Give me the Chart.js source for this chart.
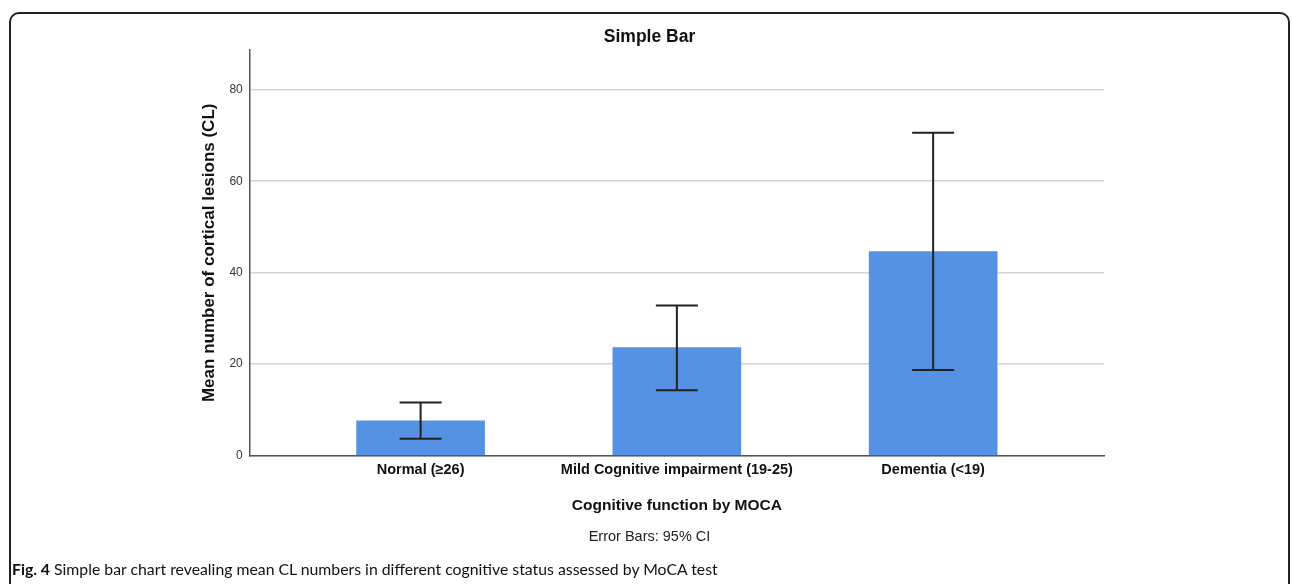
<!DOCTYPE html>
<html lang="en">
<head>
  <meta charset="UTF-8">
  <title>Simple Bar</title>
  <style>
    * { box-sizing: border-box; margin: 0; padding: 0; }
    body { width: 1292px; height: 584px; background: #fff; position: relative; overflow: hidden; }
    .frame {
      position: absolute; left: 9px; top: 12px; width: 1281px; height: 640px;
      border: 2px solid #222; border-radius: 10px;
    }
    .chart-box { position: absolute; left: 0; top: 0; width: 1292px; height: 560px; }
    .caption {
      position: absolute; left: 12px; top: 559px;
      font-family: Lato, sans-serif; font-size: 15.8px; color: #111; white-space: nowrap;
    }
    .caption b { font-weight: 700; }
  </style>
</head>
<body>
  <div class="frame"></div>
  <div class="chart-box"><canvas id="chart"></canvas></div>
  <div class="caption"><b>Fig. 4</b> Simple bar chart revealing mean CL numbers in different cognitive status assessed by MoCA test</div>

  <script src="https://cdn.jsdelivr.net/npm/chart.js"></script>
  <script>
    const categories = ['Normal (≥26)', 'Mild Cognitive impairment (19-25)', 'Dementia (<19)'];
    const means  = [7.6, 23.6, 44.6];
    const ciLow  = [3.7, 14.3, 18.7];
    const ciHigh = [11.6, 32.8, 70.6];
    const yTicks = [0, 20, 40, 60, 80];

    const FONT = '"Liberation Sans", Arial, sans-serif';

    // 95% CI whiskers drawn over the bars
    const errorBars = {
      id: 'errorBars',
      afterDatasetsDraw(chart) {
        const { ctx, scales: { x, y } } = chart;
        ctx.save();
        ctx.strokeStyle = '#222';
        ctx.lineWidth = 2;
        categories.forEach((c, i) => {
          const px = x.getPixelForValue(i);
          const top = y.getPixelForValue(ciHigh[i]);
          const bot = y.getPixelForValue(ciLow[i]);
          ctx.beginPath();
          ctx.moveTo(px, top); ctx.lineTo(px, bot);
          ctx.moveTo(px - 21, top); ctx.lineTo(px + 21, top);
          ctx.moveTo(px - 21, bot); ctx.lineTo(px + 21, bot);
          ctx.stroke();
        });
        ctx.restore();
      }
    };

    new Chart(document.getElementById('chart'), {
      type: 'bar',
      data: {
        datasets: [{
          data: means.map((m, i) => ({ x: i, y: m })),
          backgroundColor: '#5592e3',
          barThickness: 128
        }]
      },
      options: {
        responsive: true,
        maintainAspectRatio: false,
        animation: false,
        layout: { padding: { left: 195, right: 188, top: 0, bottom: 14 } },
        plugins: {
          legend: { display: false },
          tooltip: { enabled: false },
          title: {
            display: true, text: 'Simple Bar', color: '#111',
            font: { family: FONT, size: 17.5, weight: 'bold' },
            padding: { top: 27, bottom: 2 }
          },
          subtitle: {
            display: true, position: 'bottom', text: 'Error Bars: 95% CI', color: '#222',
            font: { family: FONT, size: 14.5 },
            padding: 0
          }
        },
        scales: {
          x: {
            type: 'linear',
            offset: false,
            min: -2 / 3, max: 8 / 3,
            afterBuildTicks: s => { s.ticks = categories.map((c, i) => ({ value: i })); },
            ticks: {
              callback: v => categories[v],
              color: '#111', padding: 6, maxRotation: 0, autoSkip: false,
              font: { family: FONT, size: 14.5, weight: 'bold' }
            },
            grid: { display: false, drawTicks: false, offset: false },
            border: { color: '#555', width: 1.5 },
            title: {
              display: true, text: 'Cognitive function by MOCA', color: '#111',
              font: { family: FONT, size: 15.5, weight: 'bold' },
              padding: { top: 11, bottom: 14 }
            }
          },
          y: {
            min: 0, max: 88.7,
            afterBuildTicks: s => { s.ticks = yTicks.map(v => ({ value: v })); },
            ticks: {
              color: '#333', padding: 7,
              font: { family: FONT, size: 12 }
            },
            grid: { color: '#d2d2d2', lineWidth: 1.5, drawTicks: false },
            border: { color: '#555', width: 1.5 },
            title: {
              display: true, text: 'Mean number of cortical lesions (CL)', color: '#111',
              font: { family: FONT, size: 17, weight: 'bold' },
              padding: { top: 4, bottom: 3 }
            }
          }
        }
      },
      plugins: [errorBars]
    });
  </script>
</body>
</html>
